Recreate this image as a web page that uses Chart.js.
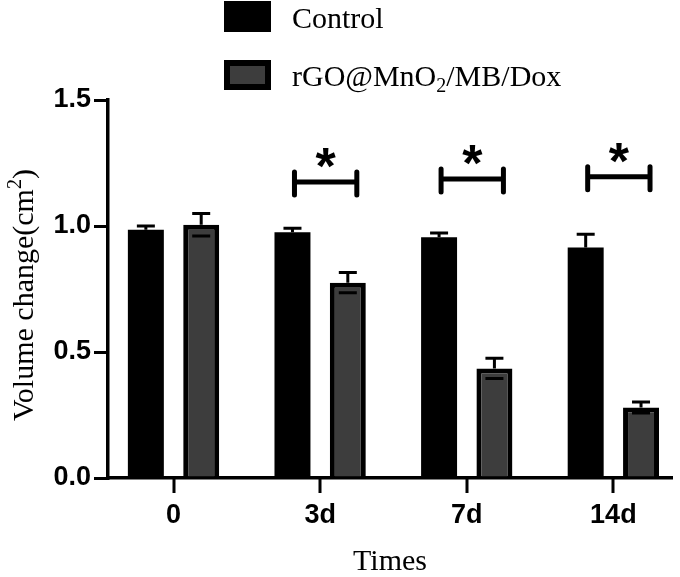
<!DOCTYPE html>
<html>
<head>
<meta charset="utf-8">
<script src="https://cdn.jsdelivr.net/npm/chart.js@4.4.1/dist/chart.umd.min.js"></script>
<style>
  html, body { margin: 0; padding: 0; background: #fff; }
  #wrap { width: 680px; height: 577px; }
</style>
</head>
<body>
<div id="wrap"><canvas id="chart"></canvas></div>
<script>
const times = ["0", "3d", "7d", "14d"];
const control = [0.985, 0.975, 0.955, 0.915];
const controlErr = [0.015, 0.016, 0.017, 0.052];
const treated = [1.005, 0.775, 0.435, 0.28];
const treatedErr = [0.045, 0.04, 0.04, 0.022];
const sigHeight = [null, 1.175, 1.187, 1.195];
const sigMark = ["", "*", "*", "*"];

const SERIF = "'Liberation Serif', 'Times New Roman', serif";
const SANS = "'Liberation Sans', Arial, sans-serif";

const errorBars = {
    id: "errorBars",
    afterDatasetsDraw(chart) {
        const ctx = chart.ctx;
        const y = chart.scales.y;
        ctx.save();
        ctx.strokeStyle = "#000";
        ctx.lineWidth = 3;
        chart.data.datasets.forEach((ds, i) => {
            const meta = chart.getDatasetMeta(i);
            meta.data.forEach((bar, j) => {
                const v = ds.data[j].y, e = ds.errors[j];
                const top = y.getPixelForValue(v + e);
                const bot = y.getPixelForValue(v - e);
                const cap = 9;
                ctx.beginPath();
                ctx.moveTo(bar.x, bar.y);
                ctx.lineTo(bar.x, top);
                ctx.moveTo(bar.x - cap, top);
                ctx.lineTo(bar.x + cap, top);
                ctx.moveTo(bar.x - cap, bot);
                ctx.lineTo(bar.x + cap, bot);
                ctx.stroke();
            });
        });
        ctx.restore();
    }
};

// tick marks under the x axis, one per time point
const xTickMarks = {
    id: "xTickMarks",
    afterDraw(chart) {
        const ctx = chart.ctx;
        const x = chart.scales.x;
        const base = chart.chartArea.bottom;
        ctx.save();
        ctx.fillStyle = "#000";
        times.forEach((t, i) => {
            const px = x.getPixelForValue(i);
            ctx.fillRect(Math.round(px) - 1.5, base, 3, 15);
        });
        ctx.restore();
    }
};

const significance = {
    id: "significance",
    afterDatasetsDraw(chart) {
        const ctx = chart.ctx;
        const y = chart.scales.y;
        const a = chart.getDatasetMeta(0).data;
        const b = chart.getDatasetMeta(1).data;
        ctx.save();
        ctx.strokeStyle = "#000";
        ctx.fillStyle = "#000";
        ctx.lineCap = "round";
        ctx.lineWidth = 5;
        sigHeight.forEach((h, j) => {
            if (h === null) return;
            const py = y.getPixelForValue(h);
            const x1 = a[j].x + 2, x2 = b[j].x + 9;
            ctx.beginPath();
            ctx.moveTo(x1, py);
            ctx.lineTo(x2, py);
            ctx.moveTo(x1, py - 10);
            ctx.lineTo(x1, py + 13);
            ctx.moveTo(x2, py - 10);
            ctx.lineTo(x2, py + 13);
            ctx.stroke();
            ctx.font = "bold 52px " + SANS;
            ctx.textAlign = "center";
            ctx.textBaseline = "alphabetic";
            ctx.fillText(sigMark[j], (x1 + x2) / 2, py + 2);
        });
        ctx.restore();
    }
};

// legend stacked in two rows, "₂" drawn as a real subscript
const stackedLegend = {
    id: "stackedLegend",
    afterDraw(chart) {
        const ctx = chart.ctx;
        const rows = [{ y: 1, h: 31 }, { y: 60, h: 30 }];
        ctx.save();
        chart.data.datasets.forEach((ds, i) => {
            const r = rows[i];
            ctx.fillStyle = "#000";
            ctx.fillRect(224, r.y, 47, r.h);
            if (ds.borderWidth) {
                ctx.fillStyle = ds.backgroundColor;
                ctx.fillRect(230, r.y + 6, 35, r.h - 12);
            }
            ctx.fillStyle = "#000";
            ctx.textBaseline = "alphabetic";
            ctx.textAlign = "left";
            const base = r.y + r.h - 4;
            let x = 292;
            ds.label.split(/(₂)/).forEach(part => {
                if (part === "₂") {
                    ctx.font = "20px " + SERIF;
                    ctx.fillText("2", x, base + 6);
                } else {
                    ctx.font = "30px " + SERIF;
                    ctx.fillText(part, x, base);
                }
                x += ctx.measureText(part === "₂" ? "2" : part).width;
            });
        });
        ctx.restore();
    }
};

// y title drawn by hand so the "2" can sit as a proper superscript
const yTitle = {
    id: "yTitle",
    afterDraw(chart) {
        const ctx = chart.ctx;
        const area = chart.chartArea;
        const main = "Volume change(cm", sup = "2", tail = ")";
        ctx.save();
        ctx.translate(33, (area.top + area.bottom) / 2 + 6);
        ctx.rotate(-Math.PI / 2);
        ctx.fillStyle = "#000";
        ctx.textBaseline = "alphabetic";
        ctx.font = "30px " + SERIF;
        const wMain = ctx.measureText(main).width, wTail = ctx.measureText(tail).width;
        ctx.font = "20px " + SERIF;
        const wSup = ctx.measureText(sup).width;
        let x = -(wMain + wSup + wTail) / 2;
        ctx.font = "30px " + SERIF;
        ctx.fillText(main, x, 0); x += wMain;
        ctx.font = "20px " + SERIF;
        ctx.fillText(sup, x, -12); x += wSup;
        ctx.font = "30px " + SERIF;
        ctx.fillText(tail, x, 0);
        ctx.restore();
    }
};

new Chart(document.getElementById("chart"), {
    type: "bar",
    data: {
        datasets: [
            {
                label: "Control",
                data: control.map((v, i) => ({ x: i, y: v })),
                errors: controlErr,
                backgroundColor: "#000",
                borderWidth: 0,
                categoryPercentage: 0.755,
                barPercentage: 0.65
            },
            {
                label: "rGO@MnO₂/MB/Dox",
                data: treated.map((v, i) => ({ x: i, y: v })),
                errors: treatedErr,
                backgroundColor: "#3d3d3d",
                borderColor: "#000",
                borderWidth: 5,
                categoryPercentage: 0.755,
                barPercentage: 0.65
            }
        ]
    },
    options: {
        responsive: true,
        maintainAspectRatio: false,
        animation: false,
        layout: { padding: { top: 100, right: 8, left: 0, bottom: 0 } },
        plugins: {
            legend: { display: false },
            tooltip: { enabled: false }
        },
        scales: {
            x: {
                type: "linear",
                min: -0.447,
                max: 3.4,
                offset: false,
                afterFit: s => { s.height = 99; },
                afterBuildTicks: s => { s.ticks = times.map((t, i) => ({ value: i })); },
                ticks: {
                    callback: v => times[v],
                    color: "#000",
                    font: { family: SANS, size: 27, weight: "bold" },
                    padding: 21,
                    maxRotation: 0,
                    autoSkip: false
                },
                grid: { display: false, drawTicks: false },
                border: { display: true, width: 3.5, color: "#000" },
                title: {
                    display: true,
                    text: "Times",
                    color: "#000",
                    font: { family: SERIF, size: 30, lineHeight: 1.0 },
                    padding: { top: 0, bottom: 0 }
                }
            },
            y: {
                min: 0,
                max: 1.5,
                afterFit: s => { s.width = 108; },
                ticks: {
                    stepSize: 0.5,
                    callback: v => v.toFixed(1),
                    color: "#000",
                    font: { family: SANS, size: 27, weight: "bold" },
                    padding: 3
                },
                grid: { drawOnChartArea: false, drawTicks: true, tickLength: 14, lineWidth: 3, color: "#000" },
                border: { display: true, width: 3.5, color: "#000" },
                title: { display: false }
            }
        }
    },
    plugins: [errorBars, significance, xTickMarks, stackedLegend, yTitle]
});
</script>
</body>
</html>
